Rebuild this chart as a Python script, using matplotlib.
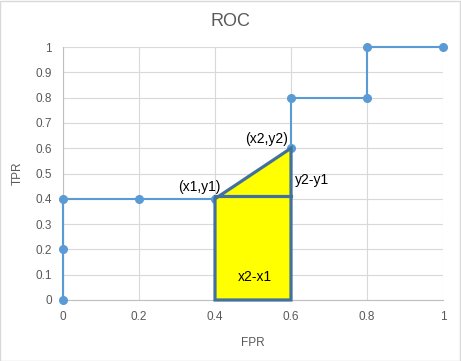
import matplotlib
matplotlib.use("Agg")
import matplotlib.pyplot as plt
from matplotlib.patches import Polygon, Rectangle

fpr = [0, 0, 0, 0.2, 0.4, 0.6, 0.6, 0.6, 0.8, 0.8, 1]
tpr = [0, 0.2, 0.4, 0.4, 0.4, 0.4, 0.6, 0.8, 0.8, 1, 1]
ticks = [0, 0.2, 0.4, 0.6, 0.8, 1]
yticks = [0, 0.1, 0.2, 0.3, 0.4, 0.5, 0.6, 0.7, 0.8, 0.9, 1]

# trapezoid pieces
x1, y1, x2, y2 = 0.4, 0.4, 0.6, 0.6

plt.rcParams['font.family'] = ['Liberation Sans', 'DejaVu Sans']

fig = plt.figure(figsize=(4.61, 3.61), dpi=100)
ax = fig.add_axes([63/461, 1-300/361, 380/461, 253/361])

blue = '#5B9BD5'
edge = '#41719C'
ax.plot(fpr, tpr, color=blue, lw=1.5, zorder=3, clip_on=False)
mk = [i for i in range(len(fpr)) if i != 5]
ax.plot([fpr[i] for i in mk], [tpr[i] for i in mk], 'o', color=blue, ms=5.5,
        zorder=4, clip_on=False)

ax.add_patch(Polygon([(x1, 0), (x1, y1), (x2, y2), (x2, 0)], closed=True,
                     facecolor='#FFFF00', edgecolor=edge, lw=2.3, zorder=5,
                     clip_on=False))
ax.plot([x1, x2], [y1 + 0.01, y1 + 0.01], color=edge, lw=2.3, zorder=6)

ax.text(0.36, 0.447, '(x1,y1)', ha='center', va='center', fontsize=10, zorder=7)
ax.text(0.537, 0.636, '(x2,y2)', ha='center', va='center', fontsize=10, zorder=7)
ax.text(0.655, 0.474, 'y2-y1', ha='center', va='center', fontsize=10, zorder=7)
ax.text(0.505, 0.09, 'x2-x1', ha='center', va='center', fontsize=10, zorder=7)

ax.set_xlim(0, 1)
ax.set_ylim(0, 1)
ax.set_xticks(ticks)
ax.set_yticks(yticks)
ax.set_xticklabels([f'{t:g}' for t in ticks])
ax.set_yticklabels([f'{t:g}' for t in yticks])
ax.grid(True, color='#D9D9D9', lw=0.8)
ax.set_axisbelow(True)
ax.tick_params(length=0, colors='#595959', labelsize=8.5, pad=8)
for s in ['top', 'right']:
    ax.spines[s].set_visible(False)
for s in ['left', 'bottom']:
    ax.spines[s].set_color('#BFBFBF')
    ax.spines[s].set_linewidth(0.8)

ax.set_xlabel('FPR', color='#595959', fontsize=8.5, labelpad=10)
ax.set_ylabel('TPR', color='#595959', fontsize=8.5, labelpad=8)
fig.text(0.5, 1-22/361, 'ROC', ha='center', va='center', fontsize=13, color='#595959')

fig.add_artist(Rectangle((0.001, 0.001), 0.997, 0.997, transform=fig.transFigure,
                         fill=False, edgecolor='#D9D9D9', lw=1))

fig.savefig('out.png', dpi=100)
